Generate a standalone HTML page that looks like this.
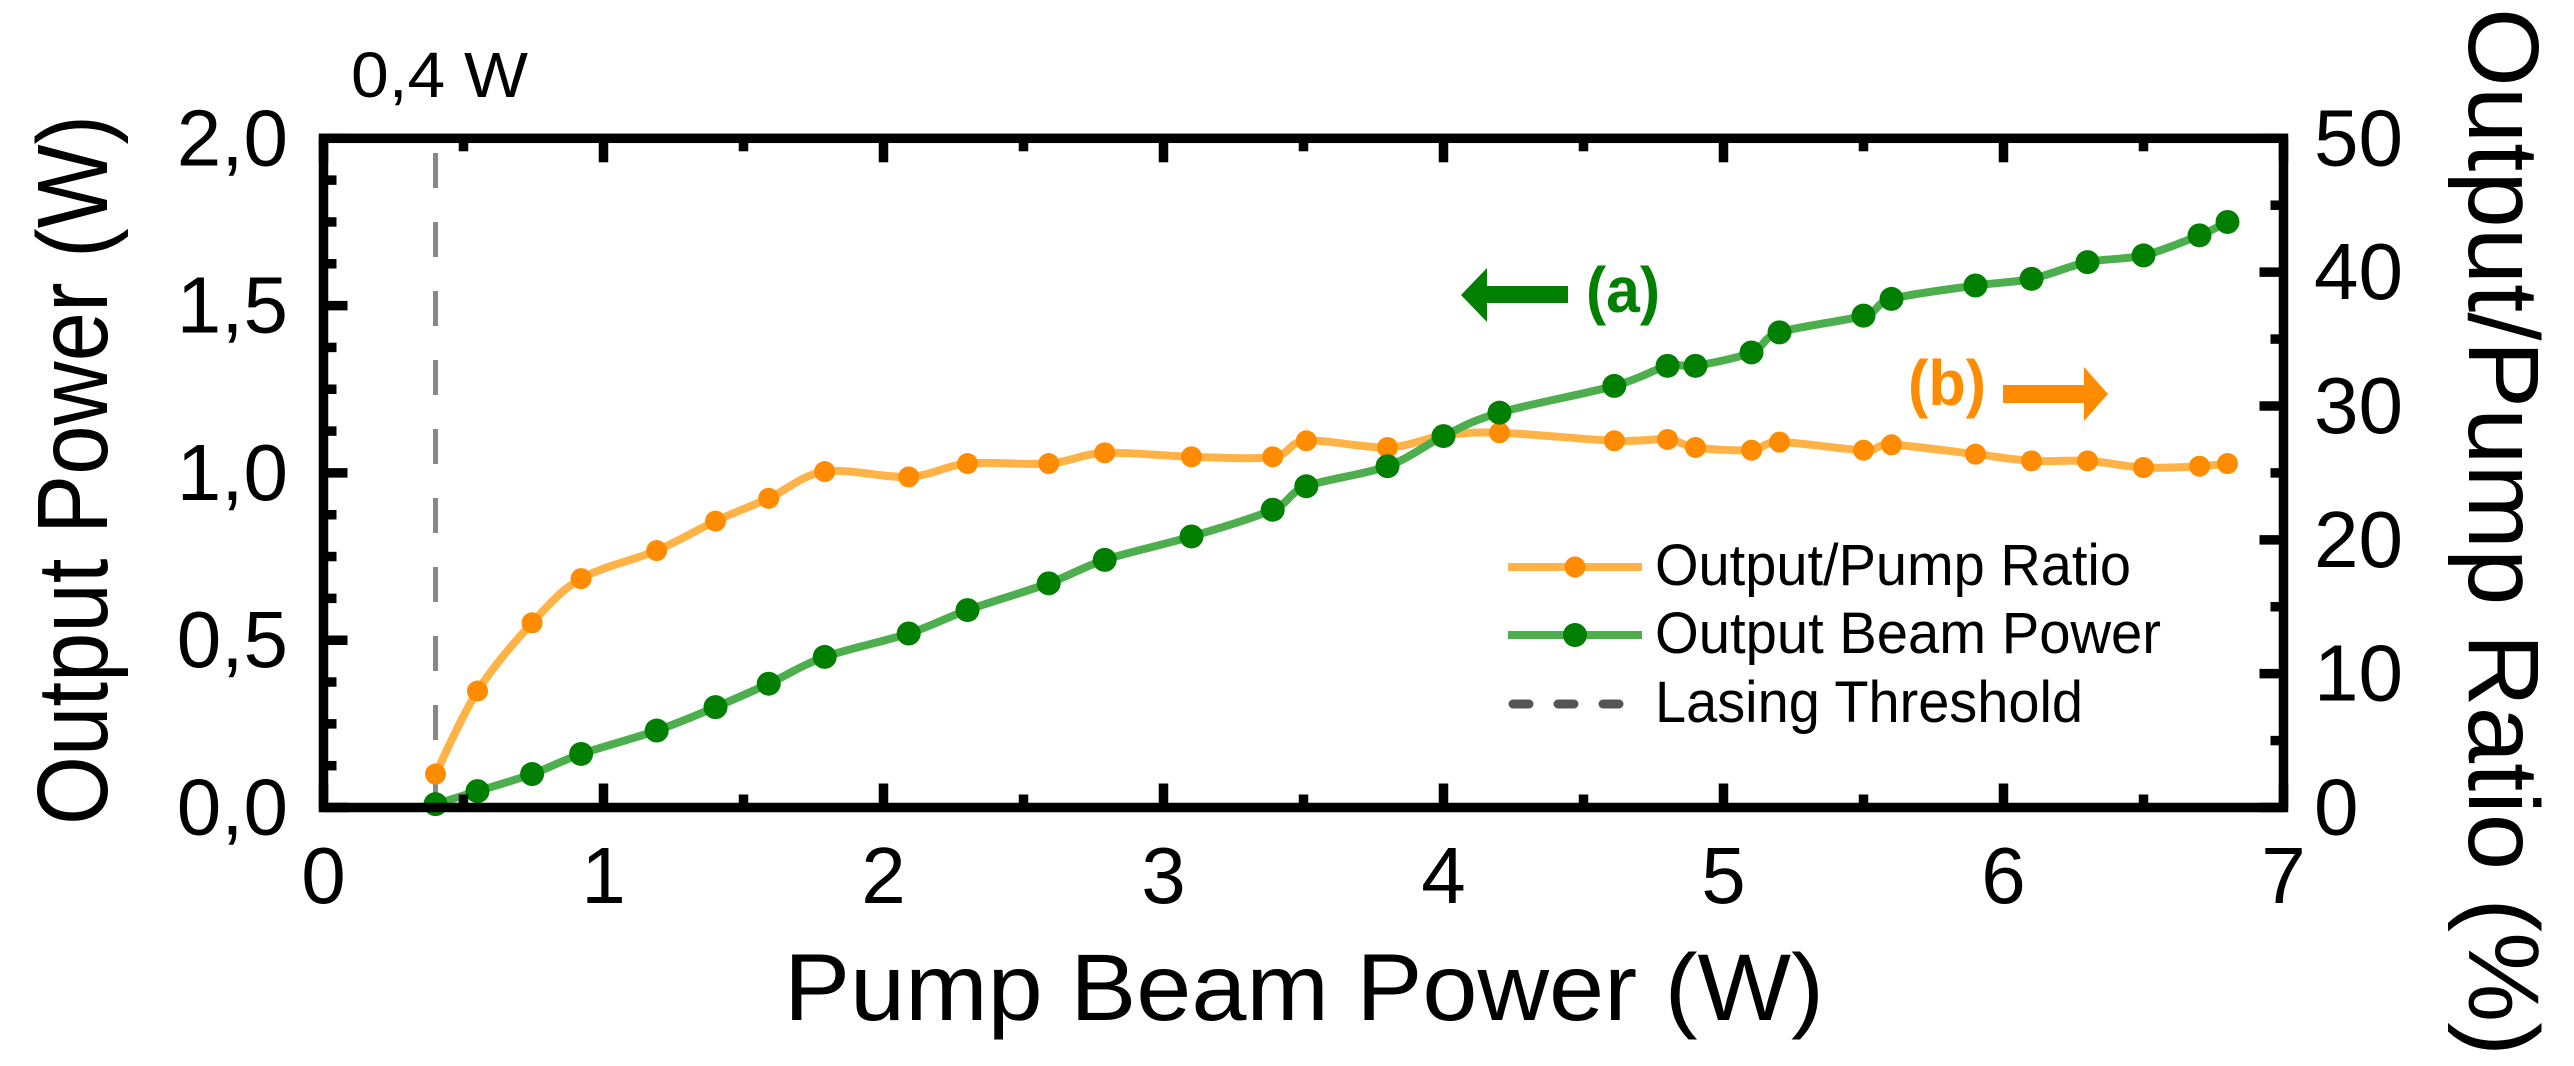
<!DOCTYPE html>
<html><head><meta charset="utf-8">
<style>
html,body{margin:0;padding:0;background:#fff;}
svg{display:block;}
text{font-family:"Liberation Sans",Arial,sans-serif;}
</style></head>
<body>
<svg id="chart" width="2574" height="1066" viewBox="0 0 2574 1066" xmlns="http://www.w3.org/2000/svg">
<g id="marks"></g>
<g id="axes"></g>
</svg>
<script>
const pumpX = [0.40,0.55,0.745,0.92,1.19,1.40,1.59,1.79,2.09,2.30,2.59,2.79,3.10,3.39,3.51,3.80,4.00,4.20,4.61,4.80,4.90,5.10,5.20,5.50,5.60,5.90,6.10,6.30,6.50,6.70,6.80];
const ratioPct = [2.5,8.7,13.8,17.1,19.2,21.4,23.1,25.1,24.7,25.7,25.7,26.5,26.2,26.2,27.4,26.9,27.8,28.0,27.4,27.5,26.9,26.7,27.3,26.7,27.1,26.4,25.9,25.9,25.4,25.5,25.7];
const outputW = [0.01,0.049,0.10,0.16,0.23,0.30,0.37,0.45,0.52,0.59,0.67,0.74,0.81,0.89,0.96,1.02,1.11,1.18,1.26,1.32,1.32,1.36,1.42,1.47,1.52,1.56,1.58,1.63,1.65,1.71,1.75];
const xTicks = [0,1,2,3,4,5,6,7];
const yLeftTicks = [0,0.5,1.0,1.5,2.0];
const yLeftLabels = ["0,0","0,5","1,0","1,5","2,0"];
const yRightTicks = [0,10,20,30,40,50];
const threshold = 0.4;

const NS="http://www.w3.org/2000/svg";
const L=323.5,R=2283.5,T=138.3,B=807.5;
const sx=v=>L+(R-L)*v/7;
const syL=v=>B-(B-T)*v/2;
const syR=v=>B-(B-T)*v/50;
const marks=document.getElementById('marks');
const axes=document.getElementById('axes');
function mk(tag,attrs,parent){const e=document.createElementNS(NS,tag);for(const k in attrs)e.setAttribute(k,attrs[k]);parent.appendChild(e);return e;}
function spline(pts){
  let d=`M${pts[0][0]},${pts[0][1]}`;
  for(let i=0;i<pts.length-1;i++){
    const p0=pts[Math.max(0,i-1)],p1=pts[i],p2=pts[i+1],p3=pts[Math.min(pts.length-1,i+2)];
    const c1=[p1[0]+(p2[0]-p0[0])/6,p1[1]+(p2[1]-p0[1])/6];
    const c2=[p2[0]-(p3[0]-p1[0])/6,p2[1]-(p3[1]-p1[1])/6];
    d+=` C${c1[0]},${c1[1]} ${c2[0]},${c2[1]} ${p2[0]},${p2[1]}`;
  }
  return d;
}
// threshold line
const th=mk('line',{x1:sx(threshold),x2:sx(threshold),y1:153,y2:B-5,stroke:'#888',"stroke-width":5,"stroke-dasharray":"35 34"},marks);


// orange series
const op=pumpX.map((x,i)=>[sx(x),syR(ratioPct[i])]);
const ol=mk('path',{d:spline(op),fill:'none',stroke:'#ffb347',"stroke-width":8,"stroke-linejoin":"round"},marks);


op.forEach(p=>{const c=mk('circle',{cx:p[0],cy:p[1],r:10.5,fill:'#ff8c00'},marks);

});
// green series
const gp=pumpX.map((x,i)=>[sx(x),syL(outputW[i])]);
const gl=mk('path',{d:spline(gp),fill:'none',stroke:'#4cae4c',"stroke-width":8,"stroke-linejoin":"round"},marks);


gp.forEach(p=>{const c=mk('circle',{cx:p[0],cy:p[1],r:12,fill:'#007f00'},marks);

});

// frame
const fr=mk('rect',{x:L,y:T,width:R-L,height:B-T,fill:'none',stroke:'#000',"stroke-width":9.5},axes);


function tick(x1,y1,x2,y2){mk('line',{x1,y1,x2,y2,stroke:'#000',"stroke-width":9.5},axes);}
for(let v=0;v<=7.001;v+=0.5){const x=sx(v);const maj=Math.abs(v-Math.round(v))<1e-6;const len=maj?24:13;tick(x,B,x,B-len);tick(x,T,x,T+len);}
for(let v=0;v<=2.001;v+=0.125){const y=syL(v);const maj=Math.abs(v*2-Math.round(v*2))<1e-6;tick(L,y,L+(maj?24:13),y);}
for(let v=0;v<=50.001;v+=5){const y=syR(v);const maj=v%10===0;tick(R,y,R-(maj?24:13),y);}
xTicks.forEach(v=>{const t=mk('text',{x:sx(v),y:903,"font-size":80,"text-anchor":"middle"},axes);t.textContent=String(v);

});
yLeftTicks.forEach((v,i)=>{const t=mk('text',{x:288,y:syL(v)+27,"font-size":80,"text-anchor":"end"},axes);t.textContent=yLeftLabels[i];

});
yRightTicks.forEach(v=>{const t=mk('text',{x:2314,y:syR(v)+27,"font-size":80},axes);t.textContent=String(v);

});
</script>
<svg style="position:absolute;left:0;top:0" width="2574" height="1066" viewBox="0 0 2574 1066" xmlns="http://www.w3.org/2000/svg">
<text x="784" y="1020" font-size="95" textLength="1040" lengthAdjust="spacingAndGlyphs">Pump Beam Power (W)</text>
<text transform="translate(107,825) rotate(-90)" x="0" y="0" font-size="100" textLength="710" lengthAdjust="spacingAndGlyphs">Output Power (W)</text>
<text transform="translate(2469,8) rotate(90)" x="0" y="0" font-size="100" textLength="1048" lengthAdjust="spacingAndGlyphs">Output/Pump Ratio (%)</text>
<text x="351" y="97" font-size="64" textLength="177" lengthAdjust="spacingAndGlyphs">0,4 W</text>
<g>
<polygon points="1461,295 1487,268 1487,286 1568,286 1568,303 1487,303 1487,322" fill="#007f00"/>
<text x="1586" y="312" font-size="64" font-weight="bold" fill="#007f00" textLength="74" lengthAdjust="spacingAndGlyphs">(a)</text>
</g>
<g>
<text x="1908" y="405" font-size="64" font-weight="bold" fill="#ff8c00" textLength="78" lengthAdjust="spacingAndGlyphs">(b)</text>
<polygon points="2003,385 2084,385 2084,367 2108,394 2084,421 2084,403 2003,403" fill="#ff8c00"/>
</g>
<g>
<g>
<line x1="1508" y1="567" x2="1642" y2="567" stroke="#ffb347" stroke-width="8"/>
<circle cx="1575" cy="567" r="10.5" fill="#ff8c00"/>
<text x="1655" y="585" font-size="58" textLength="476" lengthAdjust="spacingAndGlyphs">Output/Pump Ratio</text>
</g>
<g>
<line x1="1508" y1="635" x2="1642" y2="635" stroke="#4cae4c" stroke-width="8"/>
<circle cx="1575" cy="635" r="12" fill="#007f00"/>
<text x="1655" y="653" font-size="58" textLength="506" lengthAdjust="spacingAndGlyphs">Output Beam Power</text>
</g>
<g>
<line x1="1513" y1="704" x2="1624" y2="704" stroke="#555" stroke-width="9" stroke-linecap="round" stroke-dasharray="16 29"/>
<text x="1655" y="722" font-size="58" textLength="428" lengthAdjust="spacingAndGlyphs">Lasing Threshold</text>
</g>
</g>
</svg>
</body></html>
